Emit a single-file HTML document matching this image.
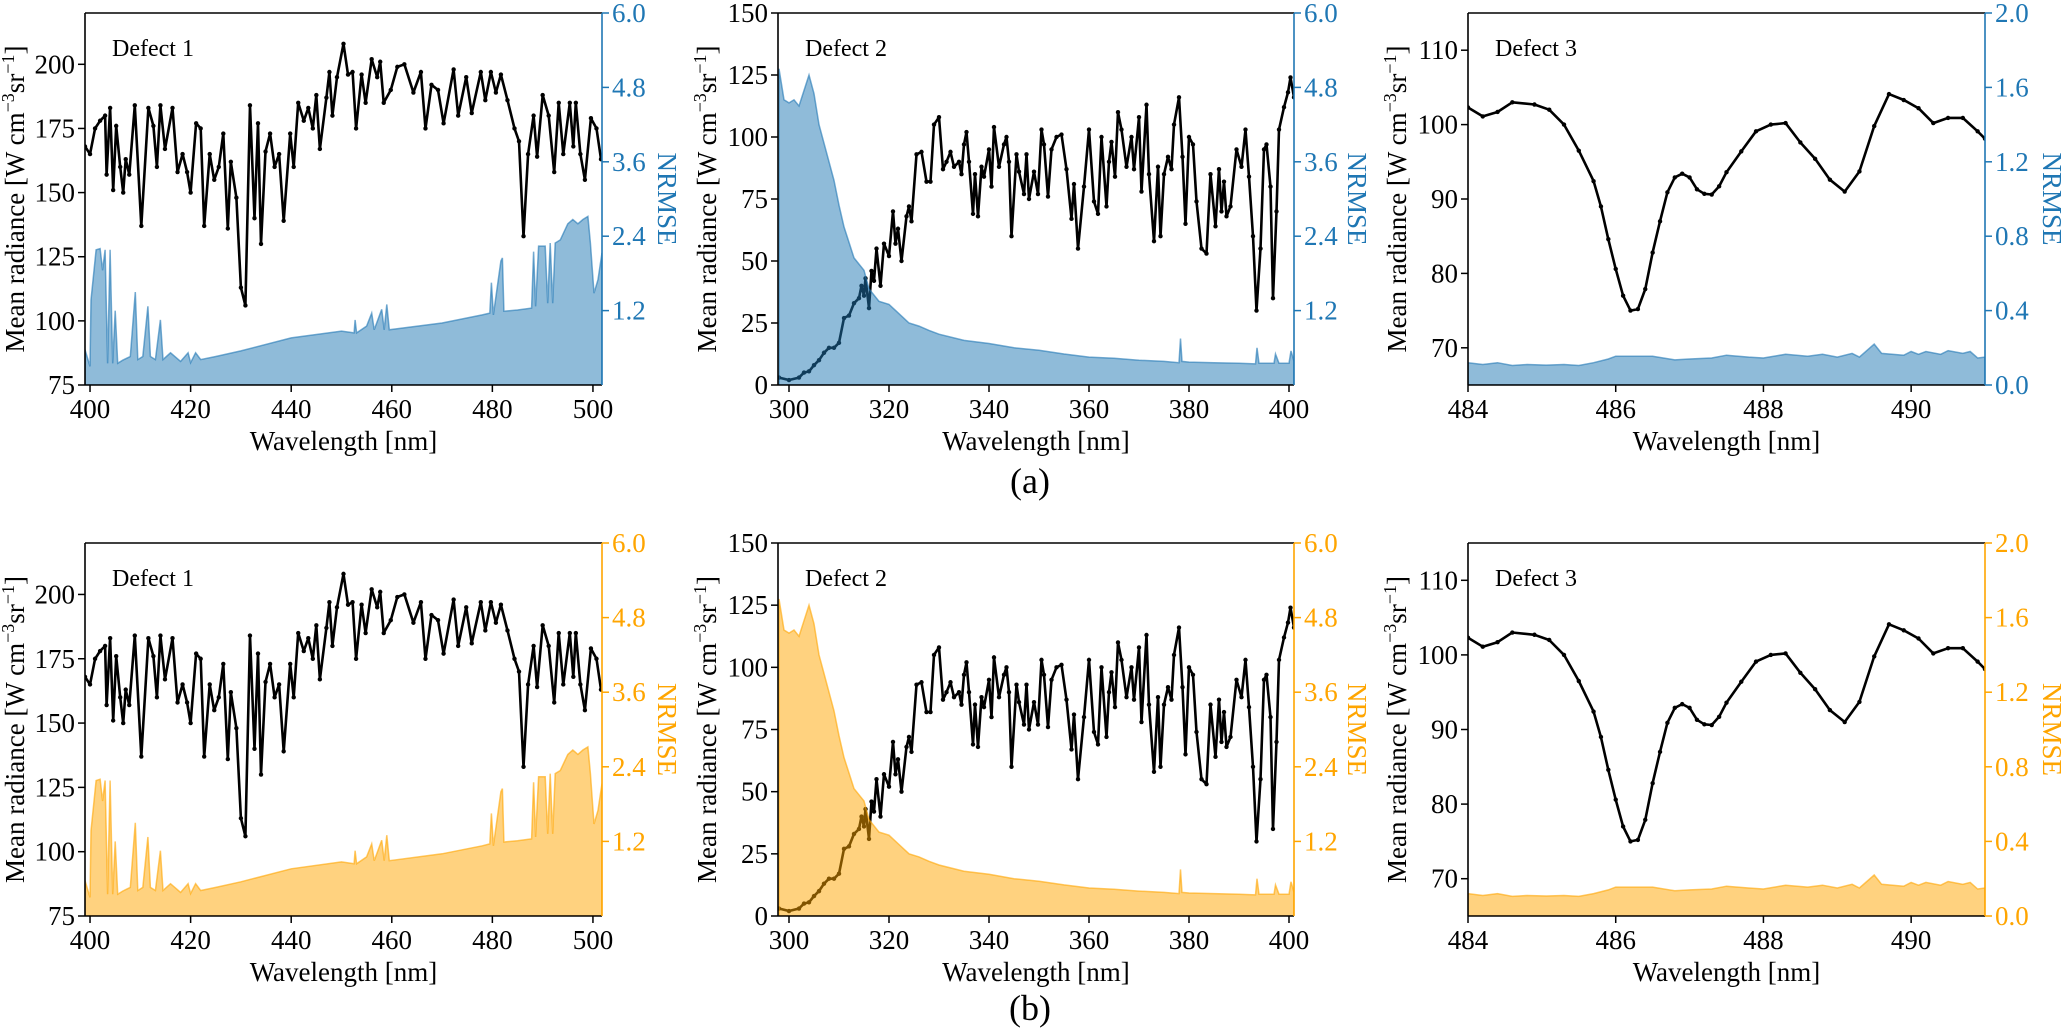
<!DOCTYPE html>
<html><head><meta charset="utf-8"><style>
html,body{margin:0;padding:0;background:#fff;}
svg{display:block;font-family:"Liberation Serif","Times New Roman","DejaVu Serif",serif;}
text{font-family:"Liberation Serif","Times New Roman","DejaVu Serif",serif;}
</style></head><body>
<svg id="fig" width="2067" height="1028" viewBox="0 0 2067 1028" xmlns="http://www.w3.org/2000/svg"></svg>
<script>
// ---- Defect 1 data ----
const d1X = [399,400,401,402,403,403.3,404,404.6,405.2,406,406.6,407.1,407.8,408.9,410.2,411.6,412.6,413.3,414,414.9,416.4,417.4,418.4,419.3,420,421.1,422,422.7,423.8,424.7,425.6,426.5,427.4,428,429.1,430,430.9,431.8,432.7,433.4,434,434.9,435.8,436.7,437.6,438.5,439.8,440.5,441.4,442.5,443.4,444.3,445,445.7,447,447.6,448.2,449.1,450.4,451.3,452.2,452.9,454,454.8,456,457.1,457.7,458.4,459.8,461.1,462.5,464.3,465.8,466.7,467.9,469.2,470.3,472.3,473.2,474.8,475.9,477.7,478.6,479.7,480.7,481.7,483,484.4,485.3,486.2,487.1,488.2,488.9,490,491.2,492.3,493.2,494.1,495.4,496.1,496.6,497.5,498.4,499.6,500.7,501.6];
const d1Rad = [168,165,175,178,180,157,183,151,176,160,150,163,157,184,137,183,176,160,184,167,183,158,165,158,150,177,175,137,165,155,160,173,136,162,148,113,106,184,140,177,130,166,173,160,165,139,173,160,185,178,183,175,188,167,187,197,180,195,208,196,197,175,196,185,202,195,201,185,190,199,200,189,197,175,192,190,177,198,180,195,181,197,186,197,189,196,186,175,170,133,165,180,164,188,180,158,185,165,185,168,185,165,155,179,175,163];
const d1NX = [399,400,400.2,401.2,402,402.5,403,403.5,404,404.5,405,405.5,406.5,408,409,409.5,410.5,411.5,412,413,414,414.5,416,418,419.5,420,421,422,425,430,440,450,452.5,452.7,453,455,456,456.5,458,458.5,459,459.5,470,478,479.5,479.8,480.2,481.7,482,482.3,485,487.8,488.2,488.6,489.2,490.5,491,491.5,492,492.5,493.5,495,496,497,498,499,499.5,500.2,501,501.8];
const d1Err = [0.57,0.3,1.37,2.18,2.2,1.85,2.18,0.35,2.18,0.35,1.2,0.35,0.4,0.46,1.5,0.41,0.46,1.27,0.46,0.41,1.05,0.41,0.52,0.38,0.52,0.36,0.52,0.41,0.46,0.55,0.76,0.87,0.84,1.05,0.84,0.95,1.16,0.89,1.22,0.89,1.3,0.89,1.0,1.13,1.16,1.65,1.13,2.0,2.05,1.19,1.21,1.24,2.15,1.27,2.24,2.24,1.32,2.29,1.32,2.29,2.34,2.6,2.67,2.6,2.67,2.72,2.29,1.48,1.7,2.13];
// ---- Defect 2 data ----
const d2X = [298,300,302,303,304,305,306,307,308,309,310,311,312,313,314,314.5,315,315.3,316,316.5,317,317.5,318.3,319,320,320.8,321.3,321.8,322.5,323.5,324,324.5,325.5,326.5,327.5,328.3,329,330,330.8,331.5,332.3,333,334,334.5,335,335.5,336,336.8,337.2,337.8,338.5,339,340,340.5,341,342,343,343.5,344,344.5,345.5,346,347,347.5,348,349,349.8,350.5,351,351.8,352.5,353.5,354.5,355.5,356.5,357,357.8,359,360,361,361.8,362.5,363.5,364,364.5,365.2,365.8,366.5,367.5,368.5,369,370,370.5,371.5,372,373,373.8,374.3,375,375.8,376.5,377,378,378.7,379.3,380,380.8,381.5,382.5,383.5,384.3,385.3,386,386.5,387,387.5,388.3,389.5,390.5,391.3,392,392.8,393.5,394.3,395,395.5,396.3,396.8,397.5,398,399,399.8,400.3,401];
const d2Rad = [3,2,3,5,5.5,8,10,13,15,15,17,27,28,33,35,40,36,43,31,46,42,55,40,57,52,70,57,63,50,68,72,66,93,94,82,82,105,108,87,90,94,88,90,85,97,102,90,69,85,68,88,84,95,80,104,88,97,100,90,60,93,86,77,93,75,86,77,103,97,76,95,100,101,87,67,81,55,80,103,74,69,100,72,90,98,84,110,103,88,100,87,108,78,113,85,58,88,60,85,92,87,105,116,92,65,100,97,74,55,53,85,64,87,70,82,68,72,95,88,103,84,60,30,55,95,97,80,35,70,103,112,118,124,116];
const d2NX = [298,299,300,301,302,303,304,305,306,307,308,309,310,311,312,313,314,315,316,318,320,322,324,326,328,330,335,340,345,350,355,360,365,370,375,378,378.3,378.6,380,385,390,393.3,393.6,394,397,397.3,398,400,400.4,401];
const d2Err = [5.1,4.6,4.55,4.6,4.5,4.75,5.0,4.7,4.2,3.9,3.6,3.3,2.9,2.55,2.3,2.05,1.95,1.85,1.55,1.35,1.3,1.15,1.0,0.95,0.88,0.82,0.72,0.67,0.6,0.56,0.5,0.45,0.43,0.4,0.38,0.36,0.75,0.38,0.37,0.36,0.35,0.34,0.6,0.35,0.35,0.5,0.35,0.35,0.55,0.38];
// ---- Defect 3 data ----
const d3X = [484,484.2,484.4,484.6,484.9,485.1,485.3,485.5,485.7,485.8,485.9,486.0,486.1,486.2,486.3,486.4,486.5,486.6,486.7,486.8,486.9,487.0,487.1,487.2,487.3,487.4,487.5,487.7,487.9,488.1,488.3,488.5,488.7,488.9,489.1,489.3,489.5,489.7,489.9,490.1,490.3,490.5,490.7,490.9,491.0];
const d3Rad = [102.3,101.1,101.7,103,102.7,102,100,96.5,92.4,89.0,84.6,80.6,77.0,75.0,75.2,77.9,82.8,87.0,90.9,92.9,93.4,92.9,91.3,90.7,90.6,91.7,93.6,96.4,99.1,100,100.2,97.6,95.4,92.6,91.0,93.7,99.8,104.1,103.3,102.2,100.2,100.9,100.9,99.1,98.1];
const d3NX = [484,484.2,484.4,484.6,484.8,485.06,485.3,485.5,485.7,485.9,486.0,486.3,486.5,486.8,487.0,487.3,487.5,487.8,488.0,488.3,488.6,488.8,489.0,489.2,489.3,489.5,489.6,489.9,490.0,490.1,490.2,490.4,490.5,490.7,490.8,490.9,491.0];
const d3Err = [0.12,0.11,0.12,0.105,0.11,0.107,0.11,0.105,0.12,0.14,0.155,0.155,0.155,0.135,0.14,0.145,0.16,0.15,0.145,0.165,0.155,0.165,0.15,0.17,0.15,0.22,0.17,0.16,0.18,0.165,0.18,0.165,0.185,0.17,0.18,0.145,0.15];
// ---- tick labels ----
const d1LeftTicks = [75,100,125,150,175,200];
const d2LeftTicks = [0,25,50,75,100,125,150];
const d3LeftTicks = [70,80,90,100,110];
const errTicks12 = [1.2,2.4,3.6,4.8,6.0];
const errTicks3 = [0.0,0.4,0.8,1.2,1.6,2.0];
const d1XTicks = [400,420,440,460,480,500];
const d2XTicks = [300,320,340,360,380,400];
const d3XTicks = [484,486,488,490];

const NS = "http://www.w3.org/2000/svg";
const svg = document.getElementById('fig');
function mk(tag, attrs, parent){const e=document.createElementNS(NS,tag);for(const k in attrs)e.setAttribute(k,attrs[k]);(parent||svg).appendChild(e);return e;}

const panels = [
 {name:'defect-1', L:85, R:602, label:'Defect 1', xr:[399,501.8], yr:[75,220], er:[0,6], X:d1X, Y:d1Rad, NX:d1NX, N:d1Err, lt:d1LeftTicks, rt:errTicks12, xt:d1XTicks, yl:15, rl:667},
 {name:'defect-2', L:778, R:1294, label:'Defect 2', xr:[297.8,401], yr:[0,150], er:[0,6], X:d2X, Y:d2Rad, NX:d2NX, N:d2Err, lt:d2LeftTicks, rt:errTicks12, xt:d2XTicks, yl:707, rl:1357},
 {name:'defect-3', L:1468, R:1985, label:'Defect 3', xr:[484,491], yr:[65,115], er:[0,2], X:d3X, Y:d3Rad, NX:d3NX, N:d3Err, lt:d3LeftTicks, rt:errTicks3, xt:d3XTicks, yl:1397, rl:2052}
];
const rows = [
 {name:'row-a', top:13, bot:385, axis:'#1f77b4', fill:'rgba(31,119,180,0.5)', edge:'rgba(31,119,180,0.6)', cap:'(a)', capY:493},
 {name:'row-b', top:543, bot:916, axis:'#ffa500', fill:'rgba(255,165,0,0.5)', edge:'rgba(255,165,0,0.6)', cap:'(b)', capY:1020}
];
const FF = "font-family:'Liberation Serif','Times New Roman','DejaVu Serif',serif;";
const F = FF + 'font-size:27px';
rows.forEach((row, ri) => {
 panels.forEach((p, pi) => {
  const g = mk('g', {});
  
  
  const T = row.top, B = row.bot, H = B - T;
  const sx = v => p.L + (v - p.xr[0]) / (p.xr[1] - p.xr[0]) * (p.R - p.L);
  const sy = v => B - (v - p.yr[0]) / (p.yr[1] - p.yr[0]) * H;
  const se = v => B - (v - p.er[0]) / (p.er[1] - p.er[0]) * H;
  const cid = 'clip' + ri + pi;
  const cp = mk('clipPath', {id: cid}, g); mk('rect', {x:p.L, y:T, width:p.R-p.L, height:H}, cp);
  let d = p.X.map((x,i)=>(i?'L':'M')+sx(x).toFixed(1)+','+sy(p.Y[i]).toFixed(1)).join('');
  const ln = mk('path', {d:d, fill:'none', stroke:'#000', 'stroke-width':2.6, 'stroke-linejoin':'round', 'clip-path':'url(#'+cid+')'}, g);
  
  
  p.X.forEach((x,i)=>{const c=mk('circle',{cx:sx(x),cy:sy(p.Y[i]),r:2.2,fill:'#000','clip-path':'url(#'+cid+')'},g);
   
   });
  let fd = 'M'+sx(p.NX[0]).toFixed(1)+','+B + p.NX.map((x,i)=>'L'+sx(x).toFixed(1)+','+se(p.N[i]).toFixed(1)).join('') + 'L'+sx(p.NX[p.NX.length-1]).toFixed(1)+','+B+'Z';
  const fa = mk('path', {d:fd, fill:row.fill, stroke:row.edge, 'stroke-width':1.5, 'clip-path':'url(#'+cid+')'}, g);
  
  
  mk('line',{x1:p.L,y1:T,x2:p.R,y2:T,stroke:'#000','stroke-width':1.6},g);
  mk('line',{x1:p.L,y1:B,x2:p.R,y2:B,stroke:'#000','stroke-width':1.6},g);
  mk('line',{x1:p.L,y1:T,x2:p.L,y2:B,stroke:'#000','stroke-width':1.6},g);
  mk('line',{x1:p.R,y1:T,x2:p.R,y2:B,stroke:row.axis,'stroke-width':1.6},g);
  p.lt.forEach(v=>{const y=sy(v);mk('line',{x1:p.L-7,y1:y,x2:p.L,y2:y,stroke:'#000','stroke-width':1.5},g);
   const t=mk('text',{x:p.L-10,y:y+9,'text-anchor':'end',style:F,fill:'#000'},g);t.textContent=v;
   
   });
  p.rt.forEach(v=>{const y=se(v);mk('line',{x1:p.R,y1:y,x2:p.R+7,y2:y,stroke:row.axis,'stroke-width':1.5},g);
   const t=mk('text',{x:p.R+10,y:y+9,style:F,fill:row.axis},g);t.textContent=v.toFixed(1);
   
   });
  p.xt.forEach(v=>{const x=sx(v);mk('line',{x1:x,y1:B,x2:x,y2:B+7,stroke:'#000','stroke-width':1.5},g);
   const t=mk('text',{x:x,y:B+33,'text-anchor':'middle',style:F,fill:'#000'},g);t.textContent=v;
   
   });
  const xl=mk('text',{x:(p.L+p.R)/2,y:B+65,'text-anchor':'middle',style:F,fill:'#000'},g);xl.textContent='Wavelength [nm]';
  
  
  const yc=(T+B)/2;
  const yt=mk('text',{x:0,y:0,'text-anchor':'middle',style:F,fill:'#000',transform:'translate('+(p.yl+9)+','+yc+') rotate(-90)'},g);
  yt.innerHTML='Mean radiance [W cm<tspan dy="-10" style="font-size:18px">−3</tspan><tspan dy="10">sr</tspan><tspan dy="-10" style="font-size:18px">−1</tspan><tspan dy="10">]</tspan>';
  
  
  const rt=mk('text',{x:0,y:0,'text-anchor':'middle',style:F,fill:row.axis,transform:'translate('+(p.rl-9)+','+yc+') rotate(90)'},g);rt.textContent='NRMSE';
  
  
  const dl=mk('text',{x:p.L+27,y:T+43,style:FF+'font-size:24px',fill:'#000'},g);dl.textContent=p.label;
  
  
 });
 const cap=mk('text',{x:1030,y:row.capY,'text-anchor':'middle',style:FF+'font-size:36px',fill:'#000'});cap.textContent=row.cap;
 
 
});
</script>
</body></html>
